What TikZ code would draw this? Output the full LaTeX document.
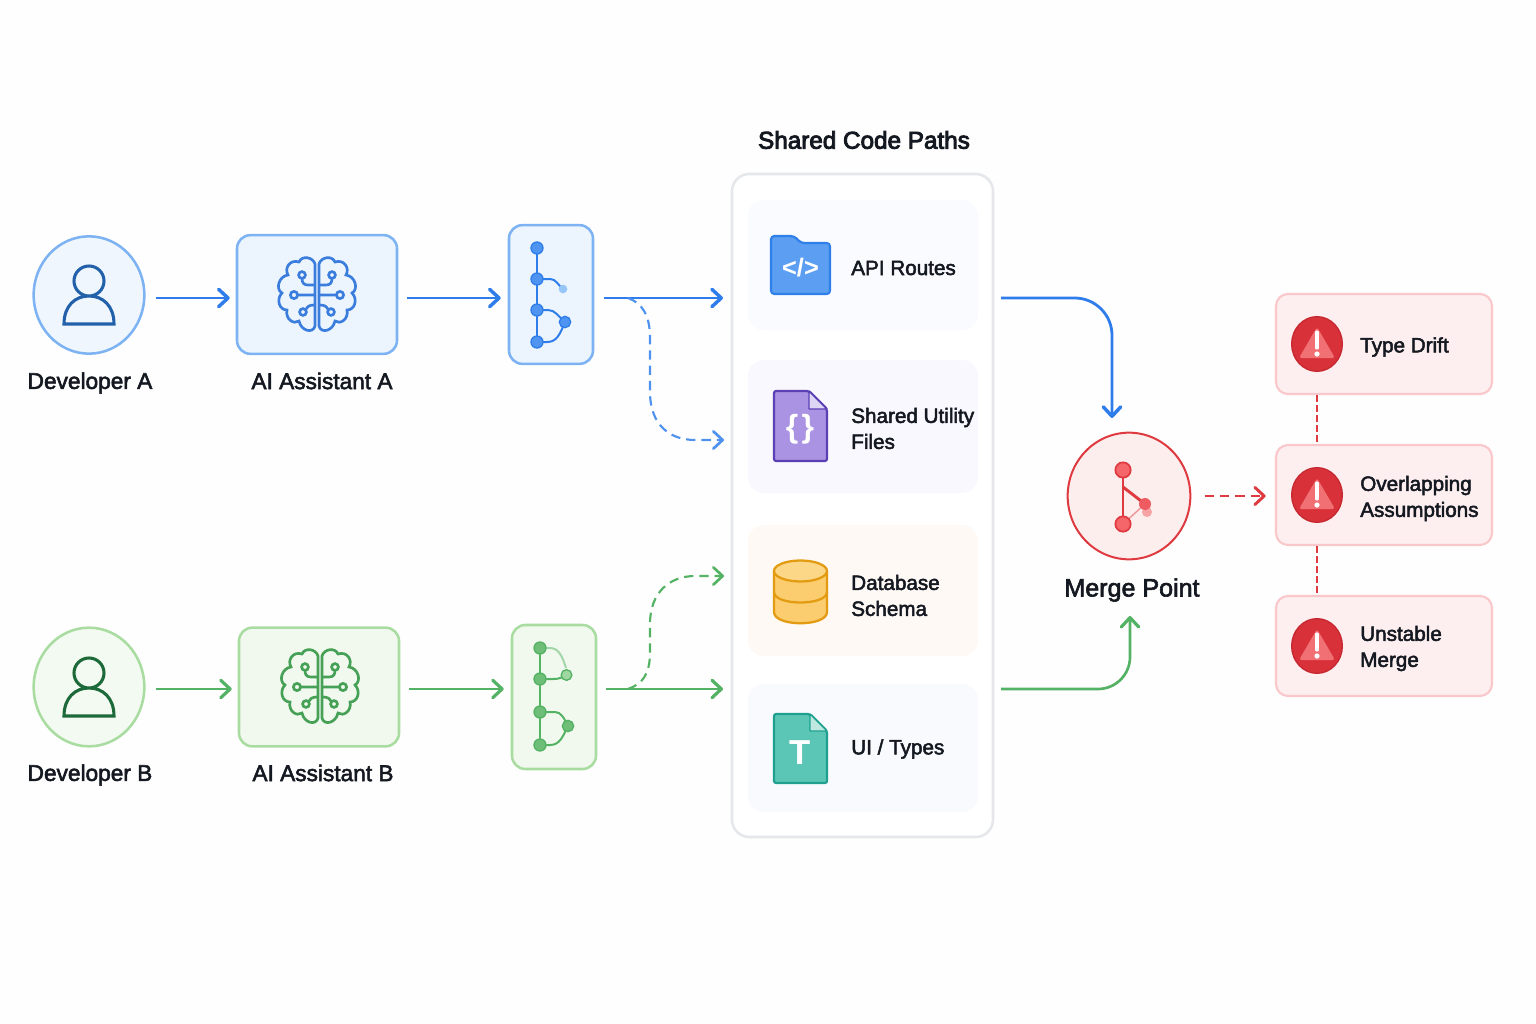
\documentclass[tikz,border=0pt]{standalone}
\usepackage{fontspec}
\setmainfont{Liberation Sans}
\newfontfamily\medfont[FakeBold=2.4]{Liberation Sans}
\newfontfamily\headfont[FakeBold=3.6]{Liberation Sans}
\usetikzlibrary{arrows.meta,shapes.geometric}

\definecolor{flowblue}{RGB}{47,125,235}
\definecolor{flowgreen}{RGB}{84,178,100}
\definecolor{flowred}{RGB}{222,58,64}
\definecolor{inkblue}{RGB}{34,96,170}
\definecolor{inkgreen}{RGB}{28,105,58}
\definecolor{brainblue}{RGB}{58,125,220}
\definecolor{braingreen}{RGB}{70,160,85}
\definecolor{textink}{RGB}{20,24,32}

\tikzset{
  txt/.style={inner sep=0,text=textink,align=left,font=\fontsize{17}{21}\selectfont\medfont},
  cardtxt/.style={txt,anchor=west,font=\fontsize{15.5}{19.5}\selectfont\medfont},
  devblue/.style={ellipse,draw={rgb, 255:red, 125; green, 179; blue, 243 },fill={rgb, 255:red, 239; green, 246; blue, 254 },line width=1.9pt,minimum width=83pt,minimum height=88pt,inner sep=0},
  devgreen/.style={ellipse,draw={rgb, 255:red, 168; green, 220; blue, 160 },fill={rgb, 255:red, 243; green, 250; blue, 241 },line width=1.9pt,minimum width=83pt,minimum height=89pt,inner sep=0},
  boxblue/.style={rectangle,rounded corners=10pt,draw={rgb, 255:red, 125; green, 179; blue, 243 },fill={rgb, 255:red, 236; green, 244; blue, 254 },line width=1.9pt,inner sep=0},
  boxgreen/.style={rectangle,rounded corners=10pt,draw={rgb, 255:red, 168; green, 220; blue, 160 },fill={rgb, 255:red, 241; green, 249; blue, 238 },line width=1.9pt,inner sep=0},
  panelbox/.style={rectangle,rounded corners=13pt,draw={rgb, 255:red, 229; green, 231; blue, 235 },fill=white,line width=1.9pt,inner sep=0,minimum width=195.75pt,minimum height=497.25pt},
  cardbox/.style={rectangle,rounded corners=12pt,inner sep=0,minimum width=172.5pt},
  riskbox/.style={rectangle,rounded corners=9pt,draw={rgb, 255:red, 250; green, 200; blue, 203 },fill={rgb, 255:red, 253; green, 238; blue, 240 },line width=1.6pt,inner sep=0,minimum width=162pt,minimum height=75pt},
  mergecircle/.style={ellipse,draw=flowred,fill={rgb, 255:red, 253; green, 238; blue, 238 },line width=1.5pt,minimum width=92pt,minimum height=95pt,inner sep=0},
  warncircle/.style={ellipse,draw={rgb, 255:red, 198; green, 40; blue, 48 },fill={rgb, 255:red, 216; green, 49; blue, 58 },line width=1pt,minimum width=38pt,minimum height=41pt,inner sep=0},
  flowline/.style={line width=2.1pt,-{Straight Barb[length=7pt,width=13pt,line width=2.6pt,round]}},
  greenline/.style={line width=2pt,-{Straight Barb[length=7pt,width=13pt,line width=2.4pt,round]}},
  forkline/.style={line width=1.6pt,dash pattern=on 7pt off 4.5pt,-{Straight Barb[length=7pt,width=13pt,line width=2pt,round]}},
  alertline/.style={line width=2pt,dash pattern=on 7pt off 4.5pt,-{Straight Barb[length=7pt,width=13pt,line width=2.2pt,round]}},
  riskline/.style={draw=flowred,line width=1.8pt,dash pattern=on 5pt off 2.5pt}
}

% person glyph
\newcommand{\personicon}[3]{%
  \draw [#3,line width=2.3pt,shift={(#1,#2)}] (0,-14) circle [radius=15]
    (-25,29) .. controls (-25,11) and (-14,1) .. (0,1) .. controls (14,1) and (25,11) .. (25,29) -- cycle ;
}
% brain glyph
\newcommand{\brainicon}[3]{%
  \begin{scope}[shift={(#1,#2)},#3,line width=2pt]
  \foreach \mirr in {1,-1}{
    \begin{scope}[xscale=\mirr]
    \draw (-2,-31) .. controls (-4,-38) and (-15,-40) .. (-18,-33) .. controls (-27,-36) and (-33,-27) .. (-29,-20)
      .. controls (-38,-19) and (-42,-6) .. (-35,-2) .. controls (-41,4) and (-38,15) .. (-30,15)
      .. controls (-32,24) and (-23,30) .. (-18,26) .. controls (-16,36) and (-4,39) .. (-2,31) -- cycle ;
    \draw (-2,0) -- (-20,0) (-23,0) circle [radius=3.6] ;
    \draw (-15,-20) circle [radius=3.4] (-15,-16.5) .. controls (-15,-12) and (-13,-10) .. (-9,-10) -- (-3,-10) ;
    \draw (-14,17) circle [radius=3.4] (-11.5,14.5) .. controls (-10,12) and (-8,10) .. (-3,10) ;
    \end{scope}
  }
  \end{scope}
}
% warning badge
\newcommand{\warnicon}[3]{%
  \node [warncircle] (#1) at (#2,#3) {};
  \fill [fill={rgb, 255:red, 240; green, 112; blue, 115 },rounded corners=2pt,shift={(#2,#3)}] (0,-17) -- (18,14) -- (-18,14) -- cycle ;
  \draw [white,line width=2.3pt,line cap=round,shift={(#2,#3)}] (0,-12) -- (0,4) ;
  \fill [white,shift={(#2,#3)}] (0,10) circle [radius=2.6] ;
}

\begin{document}
\begin{tikzpicture}[x=0.75pt,y=0.75pt,yscale=-1,xscale=1]
\path [fill={rgb, 255:red, 254; green, 254; blue, 254 }] (0,0) rectangle (1536,1024);
\useasboundingbox (0,0) rectangle (1536,1024);

%Shape: developers and assistants
\node [devblue] (devA) at (89,295) {};
\node [devgreen] (devB) at (89,687) {};
\node [boxblue,minimum width=120pt,minimum height=89pt] (asstA) at (317,294.5) {};
\node [boxgreen,minimum width=120pt,minimum height=89pt] (asstB) at (319,687) {};
\node [boxblue,minimum width=63pt,minimum height=104pt] (treeA) at (551,294.5) {};
\node [boxgreen,minimum width=63pt,minimum height=108pt] (treeB) at (554,697) {};
\personicon{89}{295}{inkblue}
\personicon{89}{687}{inkgreen}
\brainicon{317}{295}{brainblue}
\brainicon{320}{687}{braingreen}

%Shape: shared panel
\node [panelbox] (panel) at (862.5,505.5) {};
\node [cardbox,fill={rgb, 255:red, 250; green, 251; blue, 255 },minimum height=97.5pt] (cardApi) at (863,265) {};
\node [cardbox,fill={rgb, 255:red, 249; green, 248; blue, 254 },minimum height=99.75pt] (cardUtil) at (863,426.5) {};
\node [cardbox,fill={rgb, 255:red, 254; green, 249; blue, 245 },minimum height=98.25pt] (cardDb) at (863,590.5) {};
\node [cardbox,fill={rgb, 255:red, 248; green, 250; blue, 253 },minimum height=96pt] (cardUi) at (863,748) {};

%Shape: folder
\draw [draw={rgb, 255:red, 47; green, 127; blue, 232 },fill={rgb, 255:red, 92; green, 159; blue, 242 },line width=1.6pt,rounded corners=2.5pt] (771,294) -- (771,236) -- (794,236) -- (801,243) -- (830,243) -- (830,294) -- cycle ;
\node [inner sep=0,text=white,font=\fontsize{19}{19}\selectfont\bfseries] (iconApi) at (800.5,268) {</>};
%Shape: purple file
\draw [draw={rgb, 255:red, 91; green, 63; blue, 181 },fill={rgb, 255:red, 171; green, 147; blue, 227 },line width=1.6pt,rounded corners=1.5pt] (774,461) -- (774,391) -- (809,391) -- (827,409) -- (827,461) -- cycle ;
\draw [draw={rgb, 255:red, 91; green, 63; blue, 181 },fill={rgb, 255:red, 222; green, 213; blue, 245 },line width=1.1pt,line join=round] (809,391) -- (809,409) -- (827,409) -- cycle ;
\node [inner sep=0,text=white,font=\fontsize{24}{24}\selectfont\bfseries] (iconUtil) at (800,429) {\{\kern2.5pt\}};
%Shape: cylinder
\draw [draw={rgb, 255:red, 227; green, 156; blue, 18 },fill={rgb, 255:red, 251; green, 205; blue, 110 },line width=1.7pt] (774,571) -- (774,612) .. controls (774,627) and (827,627) .. (827,612) -- (827,571) ;
\draw [draw={rgb, 255:red, 227; green, 156; blue, 18 },line width=1.7pt] (774,592) .. controls (774,606) and (827,606) .. (827,592) ;
\draw [draw={rgb, 255:red, 227; green, 156; blue, 18 },fill={rgb, 255:red, 252; green, 215; blue, 135 },line width=1.7pt] (800.5,571) ellipse [x radius=26.5,y radius=10.5] ;
%Shape: teal file
\draw [draw={rgb, 255:red, 31; green, 160; blue, 143 },fill={rgb, 255:red, 92; green, 198; blue, 182 },line width=1.6pt,rounded corners=1.5pt] (774,783) -- (774,714) -- (810,714) -- (827,731) -- (827,783) -- cycle ;
\draw [draw={rgb, 255:red, 31; green, 160; blue, 143 },fill={rgb, 255:red, 190; green, 232; blue, 224 },line width=1pt,line join=round] (810,714) -- (810,731) -- (827,731) -- cycle ;
\node [inner sep=0,text=white,font=\fontsize{26}{26}\selectfont\bfseries] (iconUi) at (800,753) {T};

%Shape: merge and risks
\node [mergecircle] (mergePt) at (1129,496) {};
\node [riskbox] (riskA) at (1384,344) {};
\node [riskbox] (riskB) at (1384,495) {};
\node [riskbox] (riskC) at (1384,646) {};
\warnicon{warnA}{1317}{344}
\warnicon{warnB}{1317}{495}
\warnicon{warnC}{1317}{646}

%Shape: branch glyph A
\begin{scope}[flowblue,line width=1.5pt]
\draw (537,248) -- (537,342) ;
\draw (537,279) -- (550,279) .. controls (556,279) and (558,285) .. (563,289) ;
\draw (537,310) -- (548,310) .. controls (555,310) and (558,316) .. (565,322) .. controls (560,334) and (557,342) .. (547,342) -- (537,342) ;
\foreach \ty/\tn in {248/a,279/b,310/c,342/d}
  \node [circle,draw=flowblue,fill={rgb, 255:red, 78; green, 148; blue, 240 },line width=1pt,minimum size=9pt,inner sep=0] (treeA\tn) at (537,\ty) {};
\node [circle,fill={rgb, 255:red, 150; green, 198; blue, 248 },minimum size=6.5pt,inner sep=0] (treeAe) at (563,289) {};
\node [circle,draw=flowblue,fill={rgb, 255:red, 78; green, 148; blue, 240 },line width=1pt,minimum size=8.5pt,inner sep=0] (treeAf) at (565,322) {};
\end{scope}
%Shape: branch glyph B
\begin{scope}[flowgreen,line width=1.5pt]
\draw (540,648) -- (540,745) ;
\draw [opacity=0.5] (540,648) -- (550,648) .. controls (558,648) and (562,655) .. (566,668) ;
\draw (540,679) -- (553,679) .. controls (559,679) and (561,678) .. (566,675) ;
\draw (540,712) -- (555,712) .. controls (561,712) and (564,718) .. (568,726) .. controls (563,736) and (560,745) .. (550,745) -- (540,745) ;
\foreach \ty/\tn in {648/a,679/b,712/c,745/d}
  \node [circle,draw=flowgreen,fill={rgb, 255:red, 110; green, 190; blue, 120 },line width=1pt,minimum size=9pt,inner sep=0] (treeB\tn) at (540,\ty) {};
\node [circle,draw=flowgreen,fill={rgb, 255:red, 160; green, 215; blue, 160 },line width=1pt,minimum size=8pt,inner sep=0] (treeBe) at (566.5,675) {};
\node [circle,draw=flowgreen,fill={rgb, 255:red, 110; green, 190; blue, 120 },line width=1pt,minimum size=8.5pt,inner sep=0] (treeBf) at (568,726) {};
\end{scope}
%Shape: merge glyph
\node [circle,fill={rgb, 255:red, 245; green, 130; blue, 135 },opacity=0.7,minimum size=7.5pt,inner sep=0] (mergeGhost) at (1147,512) {};
\coordinate (mergeTop) at (1123,470);
\coordinate (mergeBot) at (1123,524);
\coordinate (mergeSide) at (1145,504);
\draw [flowred,line width=2.2pt] (mergeTop) -- (mergeBot) ;
\draw [flowred,line width=2.2pt] (1123,487) -- (mergeSide) ;
\draw [flowred,line width=1pt,opacity=0.5] (mergeBot) -- (mergeSide) ;
\node [circle,draw=flowred,fill={rgb, 255:red, 245; green, 102; blue, 106 },line width=1.3pt,minimum size=11.5pt,inner sep=0] at (mergeTop) {};
\node [circle,draw=flowred,fill={rgb, 255:red, 245; green, 102; blue, 106 },line width=1.3pt,minimum size=11.5pt,inner sep=0] at (mergeBot) {};
\node [circle,fill={rgb, 255:red, 238; green, 92; blue, 98 },minimum size=9pt,inner sep=0] at (mergeSide) {};

%Straight Lines
\coordinate (inApi) at (723,298);
\coordinate (inUtil) at (724,440);
\coordinate (inDb) at (724,576);
\coordinate (inUi) at (723,689);
\coordinate (forkA) at (628,298);
\coordinate (forkB) at (628,689);
\coordinate (outApi) at (1001,298);
\coordinate (outUi) at (1001,689);
\coordinate (inMergeA) at (1112,418);
\coordinate (inMergeB) at (1130,616);
\draw [flowline,flowblue] ([shift={(10,3)}]devA.east) -- ([shift={(-6,3.5)}]asstA.west) ;
\draw [flowline,flowblue] ([shift={(9,3.5)}]asstA.east) -- ([shift={(-7,3.5)}]treeA.west) ;
\draw [flowline,flowblue] ([shift={(10,3.5)}]treeA.east) -- (inApi) ;
\draw [greenline,flowgreen] ([shift={(10,2)}]devB.east) -- ([shift={(-6,2)}]asstB.west) ;
\draw [greenline,flowgreen] ([shift={(9,2)}]asstB.east) -- ([shift={(-7,-8)}]treeB.west) ;
\draw [greenline,flowgreen] ([shift={(9,-8)}]treeB.east) -- (inUi) ;
\draw [forkline,flowblue!85!white] (forkA) .. controls (642,303) and (650,315) .. (650,338) -- (650,392) .. controls (650,425) and (670,440) .. (695,440) -- (inUtil) ;
\draw [forkline,flowgreen] (forkB) .. controls (642,684) and (650,675) .. (650,652) -- (650,624) .. controls (650,592) and (670,576) .. (695,576) -- (inDb) ;
\draw [flowline,flowblue,rounded corners=28pt] (outApi) -- (inMergeA |- outApi) -- (inMergeA) ;
\draw [greenline,flowgreen,rounded corners=24pt] (outUi) -- (inMergeB |- outUi) -- (inMergeB) ;
\draw [alertline,flowred] ([xshift=10]mergePt.east) -- ([xshift=-7]riskB.west |- mergePt.east) ;
\draw [riskline] (warnA |- riskA.south) -- (warnA |- riskB.north) ;
\draw [riskline] (warnB |- riskB.south) -- (warnB |- riskC.north) ;

% Text Node
\node [txt] (lblDevA) at (90,383) {Developer A};
\node [txt] (lblDevB) at (90,775) {Developer B};
\node [txt] (lblAsstA) at (322,381) {AI Assistant A};
\node [txt] (lblAsstB) at (323,773) {AI Assistant B};
\node [txt,font=\fontsize{18.2}{22}\selectfont\headfont] (lblPanel) at (864,140) {Shared Code Paths};
\node [txt,font=\fontsize{18.8}{22}\selectfont\medfont] (lblMerge) at (1132,590) {Merge Point};
\node [cardtxt] (lblApi) at (851,268) {API Routes};
\node [cardtxt] (lblUtil) at (851,428.5) {Shared Utility\\Files};
\node [cardtxt] (lblDb) at (851,595.5) {Database\\Schema};
\node [cardtxt] (lblUi) at (851,749) {UI / Types};
\node [cardtxt] (lblRiskA) at (1360,347) {Type Drift};
\node [cardtxt] (lblRiskB) at (1360,498.5) {Overlapping\\Assumptions};
\node [cardtxt] (lblRiskC) at (1360,648.5) {Unstable\\Merge};

\end{tikzpicture}
\end{document}
